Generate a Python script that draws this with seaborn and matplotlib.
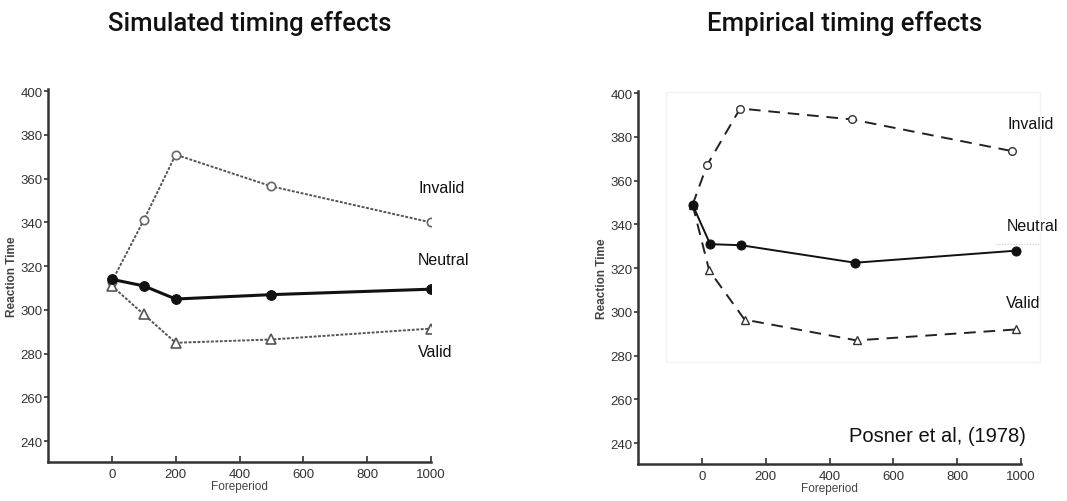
import matplotlib
matplotlib.use("Agg")
import matplotlib.pyplot as plt
import seaborn as sns
import numpy as np
import pandas as pd
from matplotlib.patches import Rectangle

# ---------------- data ----------------
sim_foreperiod = [0, 100, 200, 500, 1000]
sim_invalid = [313, 341, 371, 356.5, 340]
sim_neutral = [314, 311, 305, 307, 309.5]
sim_valid = [311, 298, 285, 286.5, 291.5]

emp_fp_invalid = [-29, 16, 120, 470, 973]
emp_invalid = [349, 367, 393, 388, 373.5]
emp_fp_neutral = [-29, 26, 123, 480, 983]
emp_neutral = [349, 331, 330.5, 322.5, 328]
emp_fp_valid = [-29, 23, 134, 485, 984]
emp_valid = [349, 319, 296.5, 287, 292]

titles = ["Simulated timing effects", "Empirical timing effects"]
x_ticks = [0, 200, 400, 600, 800, 1000]
y_ticks = [240, 260, 280, 300, 320, 340, 360, 380, 400]
series_names = ["Invalid", "Neutral", "Valid"]
citation = "Posner et al, (1978)"

# ---------------- style ----------------
sns.set_theme(style="white")
plt.rcParams['font.family'] = ['Liberation Sans', 'DejaVu Sans']

fig = plt.figure(figsize=(10.67, 5.02), dpi=100)
W, H = 1067, 502

def ax_rect(x0, x1, ytop, ybot):
    return [x0 / W, 1 - ybot / H, (x1 - x0) / W, (ybot - ytop) / H]

ax1 = fig.add_axes(ax_rect(48, 431, 90, 463))
ax2 = fig.add_axes(ax_rect(638, 1021, 92, 465))

def style_axes(ax):
    ax.set_xlim(-200, 1000)
    ax.set_ylim(230.5, 401)
    for s in ["top", "right"]:
        ax.spines[s].set_visible(False)
    for s in ["left", "bottom"]:
        ax.spines[s].set_color("#333333")
        ax.spines[s].set_linewidth(1.8)
    ax.set_xticks(x_ticks)
    ax.set_yticks(y_ticks)
    ax.tick_params(axis="x", direction="in", length=4, width=1.2, colors="#333333",
                   labelsize=9.5, pad=4, bottom=True)
    ax.tick_params(axis="y", direction="out", length=3, width=1.2, colors="#333333",
                   labelsize=9.5, pad=1, left=True)
    ax.set_xlabel("Foreperiod", fontsize=8.5, color="#444444", labelpad=0)
    ax.set_ylabel("Reaction Time", fontsize=8.5, color="#444444", labelpad=2,
                  fontweight="bold")
    ax.set_facecolor("white")
    ax.grid(False)

lab_kw = dict(fontsize=11.5, va="center", ha="left", clip_on=False, color="#111111")

# ---------------- left panel: simulated ----------------
dot = (0, (1.5, 0.8))
sns.lineplot(x=sim_foreperiod, y=sim_invalid, ax=ax1, color="#555555", linewidth=1.4,
             linestyle=dot, marker="o", markersize=6, markerfacecolor="white",
             markeredgecolor="#666666", markeredgewidth=1.2)
sns.lineplot(x=sim_foreperiod, y=sim_valid, ax=ax1, color="#555555", linewidth=1.4,
             linestyle=dot, marker="^", markersize=6.5, markerfacecolor="white",
             markeredgecolor="#555555", markeredgewidth=1.2)
sns.lineplot(x=sim_foreperiod, y=sim_neutral, ax=ax1, color="#111111", linewidth=2.2,
             marker="o", markersize=7, markerfacecolor="#111111",
             markeredgecolor="#111111")
style_axes(ax1)
ax1.text(960, 356, series_names[0], **lab_kw)
ax1.text(960, 323, series_names[1], **lab_kw)
ax1.text(960, 281, series_names[2], **lab_kw)

# ---------------- right panel: empirical ----------------
# faint background frame visible in the reference
fig.patches.append(Rectangle((666 / W, 1 - 363 / H), (1040 - 666) / W, (363 - 93) / H,
                             transform=fig.transFigure, fill=False,
                             edgecolor="#f3f3f3", linewidth=1, zorder=0))
dash = (0, (6, 4))
sns.lineplot(x=emp_fp_invalid, y=emp_invalid, ax=ax2, color="#222222", linewidth=1.4,
             linestyle=dash, marker="o", markersize=5.5, markerfacecolor="white",
             markeredgecolor="#333333", markeredgewidth=1.0)
sns.lineplot(x=emp_fp_valid, y=emp_valid, ax=ax2, color="#222222", linewidth=1.4,
             linestyle=dash, marker="^", markersize=6, markerfacecolor="white",
             markeredgecolor="#333333", markeredgewidth=1.0)
sns.lineplot(x=emp_fp_neutral, y=emp_neutral, ax=ax2, color="#111111", linewidth=1.4,
             marker="o", markersize=6.5, markerfacecolor="#111111",
             markeredgecolor="#111111")
style_axes(ax2)
ax2.plot([922, 1060], [331, 331], color="#cccccc", linewidth=0.8, linestyle=(0, (1, 1.5)),
         clip_on=False)
ax2.text(959, 386.3, series_names[0], **lab_kw)
ax2.text(956, 339.7, series_names[1], **lab_kw)
ax2.text(953, 304.5, series_names[2], **lab_kw)
ax2.text(461, 243.6, citation, fontsize=14.5, va="center", ha="left", color="#111111")

# ---------------- titles ----------------
fig.text(250 / W, 1 - 24 / H, titles[0], fontsize=18.5, ha="center", va="center",
         family=["Roboto", "Liberation Sans", "DejaVu Sans"], fontweight="medium",
         color="#111111")
fig.text(845 / W, 1 - 24 / H, titles[1], fontsize=18.5, ha="center", va="center",
         family=["Roboto", "Liberation Sans", "DejaVu Sans"], fontweight="medium",
         color="#111111")

fig.savefig("out.png", dpi=100, facecolor="white")
